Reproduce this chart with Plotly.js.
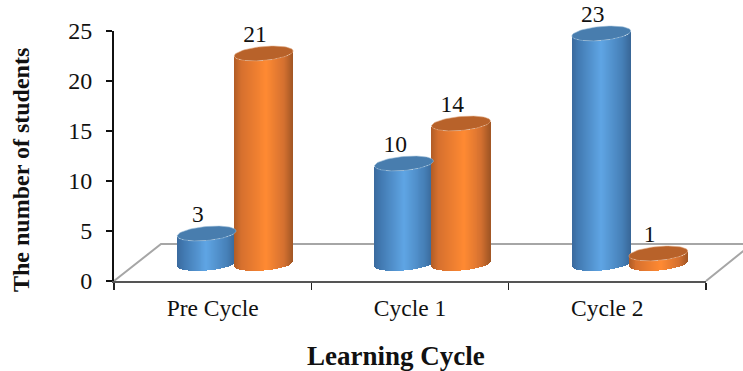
<!DOCTYPE html>
<html>
<head>
<meta charset="utf-8">
<script src="https://cdn.plot.ly/plotly-3.0.1.min.js"></script>
<style>html,body{margin:0;padding:0;background:#fff;overflow:hidden}</style>
</head>
<body>
<div id="chart" style="width:743px;height:371px"></div>
<script>
// Chart data
const categories = ['Pre Cycle', 'Cycle 1', 'Cycle 2'];
const blueCounts = [3, 10, 23];
const orangeCounts = [21, 14, 1];
const yTicks = [0, 5, 10, 15, 20, 25];
const yTitle = 'The number of students';
const xTitle = 'Learning Cycle';

// Cylinder geometry, in hidden-axis units (1 x unit = one category, 1 y unit = one student)
const halfWidth = 0.1495;      // horizontal radius
const capRadius = 0.7;         // vertical radius of the elliptical caps
const capTilt = 0.25;          // caps rise slightly toward the right
const seriesGap = 0.1445;      // distance of each cylinder from the group centre
const stripCount = 60;         // vertical strips that build the side shading
const labelLift = 1.75;
const labelShift = -0.044;

const blueShade = [[0, [58, 106, 158]], [0.12, [66, 122, 178]], [0.5, [95, 165, 228]], [0.85, [70, 128, 184]], [1, [56, 102, 150]]];
const orangeShade = [[0, [176, 92, 38]], [0.12, [214, 112, 46]], [0.55, [255, 138, 50]], [0.85, [212, 112, 48]], [1, [160, 86, 36]]];

function shadeAt(stops, u) {
  for (let i = 1; i < stops.length; i++) {
    if (u <= stops[i][0]) {
      const f = (u - stops[i - 1][0]) / (stops[i][0] - stops[i - 1][0]);
      const c = stops[i - 1][1].map((v, k) => Math.round(v + (stops[i][1][k] - v) * f));
      return `rgb(${c.join(',')})`;
    }
  }
  return `rgb(${stops[stops.length - 1][1].join(',')})`;
}

// Side of the cylinders: thin bars whose height is the value and whose base follows the lower rim
function sideTrace(values, side, stops) {
  const x = [], y = [], base = [], color = [];
  values.forEach((v, g) => {
    for (let s = 0; s < stripCount; s++) {
      const u = (s + 0.5) / stripCount, t = 2 * u - 1;
      x.push(g + side * seriesGap + halfWidth * t);
      y.push(v);
      base.push(capTilt * t - capRadius * Math.sqrt(1 - t * t));
      color.push(shadeAt(stops, u));
    }
  });
  return {
    type: 'bar', x, y, base, xaxis: 'x2', yaxis: 'y2',
    width: 2 * halfWidth / stripCount * 1.5,
    marker: { color, line: { width: 0 } },
    hoverinfo: 'skip', showlegend: false
  };
}

// Elliptical top of the cylinders
function capTrace(values, side, fill, rim) {
  const x = [], y = [];
  values.forEach((v, g) => {
    for (let i = 0; i <= 72; i++) {
      const a = i / 72 * 2 * Math.PI, t = Math.cos(a);
      x.push(g + side * seriesGap + halfWidth * t);
      y.push(v + capTilt * t + capRadius * Math.sin(a));
    }
    x.push(null); y.push(null);
  });
  return {
    type: 'scatter', mode: 'lines', x, y, xaxis: 'x2', yaxis: 'y2',
    fill: 'toself', fillcolor: fill, line: { color: rim, width: 1 },
    hoverinfo: 'skip', showlegend: false
  };
}

function labelTrace(values, side) {
  return {
    type: 'scatter', mode: 'text', xaxis: 'x2', yaxis: 'y2',
    x: values.map((v, g) => g + side * seriesGap + labelShift),
    y: values.map(v => v + labelLift),
    text: values.map(String), textposition: 'middle center',
    textfont: { family: '"Liberation Serif", serif', size: 23.5, color: '#111' },
    hoverinfo: 'skip', showlegend: false
  };
}

// Invisible trace that carries the category axis
const axisTrace = {
  type: 'scatter', mode: 'lines', x: categories, y: categories.map(() => 0),
  opacity: 0, hoverinfo: 'skip', showlegend: false
};

const data = [
  axisTrace,
  sideTrace(blueCounts, -1, blueShade),
  capTrace(blueCounts, -1, '#487dae', 'rgba(150,185,215,0.55)'),
  sideTrace(orangeCounts, 1, orangeShade),
  capTrace(orangeCounts, 1, '#b8622a', 'rgba(225,170,130,0.55)'),
  labelTrace(blueCounts, -1),
  labelTrace(orangeCounts, 1)
];

// Plot box in page pixels. It reaches the top of the page so the tallest cylinder
// and its label have room; the visible value axis only uses the lower part.
const box = { left: 114, right: 706, top: 0, bottom: 281, axisTop: 31 };
const px = v => (v - box.left) / (box.right - box.left);
const py = v => (box.bottom - v) / (box.bottom - box.top);
const floorPath = `M ${px(114)} ${py(281)} L ${px(161)} ${py(244)} L ${px(760)} ${py(244)} ` +
                  `M ${px(706)} ${py(281)} L ${px(752)} ${py(244)}`;

const serif = '"Liberation Serif", serif';
const layout = {
  width: 743, height: 371,
  margin: { l: box.left, r: 743 - box.right, t: box.top, b: 371 - box.bottom, pad: 0 },
  paper_bgcolor: '#fff', plot_bgcolor: 'rgba(0,0,0,0)',
  barmode: 'overlay', bargap: 0,
  showlegend: false,
  font: { family: serif, color: '#111' },
  xaxis: {
    type: 'category', categoryorder: 'array', categoryarray: categories, range: [-0.5, 2.5],
    tickson: 'boundaries', ticks: 'outside', ticklen: 7, tickwidth: 1.5, tickcolor: '#222',
    ticklabelstandoff: 5,
    showline: true, linecolor: '#555', linewidth: 2, showgrid: false, zeroline: false,
    tickfont: { family: serif, size: 23.5, color: '#111' }
  },
  yaxis: {
    domain: [0, py(box.axisTop)],
    range: [0, 25], tickvals: yTicks, ticks: 'outside', ticklen: 6, tickwidth: 1.5, tickcolor: '#111',
    ticklabelstandoff: 9,
    showline: true, linecolor: '#111', linewidth: 2, showgrid: false, zeroline: false,
    tickfont: { family: serif, size: 24, color: '#111' }
  },
  // Hidden axes carry the cylinders, whose floor sits behind and above the axis origin.
  // 10 px per student, with the zero level 17.5 px above the value axis origin.
  xaxis2: { anchor: 'y2', domain: [0, 1], range: [-0.614, 2.386], visible: false, fixedrange: true },
  yaxis2: { anchor: 'x2', domain: [0, 1], range: [-1.75, 26.35], visible: false, fixedrange: true },
  annotations: [
    {
      text: `<b>${yTitle}</b>`, xref: 'paper', yref: 'paper', x: px(21), y: py(170),
      xanchor: 'center', yanchor: 'middle', textangle: -90, showarrow: false,
      font: { family: serif, size: 24, color: '#111' }
    },
    {
      text: `<b>${xTitle}</b>`, xref: 'paper', yref: 'paper', x: px(395.5), y: py(356),
      xanchor: 'center', yanchor: 'middle', showarrow: false,
      font: { family: serif, size: 27, color: '#111' }
    }
  ],
  shapes: [{
    type: 'path', xref: 'paper', yref: 'paper', path: floorPath, layer: 'below',
    line: { color: '#a6a6a6', width: 2 }
  }]
};

Plotly.newPlot('chart', data, layout, { displayModeBar: false, staticPlot: true });
</script>
</body>
</html>
